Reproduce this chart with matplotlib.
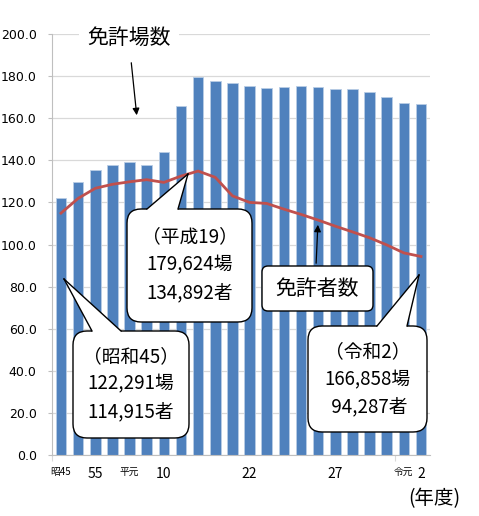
import numpy as np
import matplotlib
matplotlib.use("Agg")
import matplotlib.pyplot as plt
from matplotlib.patches import FancyBboxPatch, Polygon
from matplotlib.lines import Line2D
from matplotlib.transforms import Affine2D

plt.rcParams['font.family'] = ['Noto Sans CJK JP', 'DejaVu Sans']

# 免許場数 (千場) と 免許者数 (千人)
places = [122.3, 129.8, 135.2, 137.8, 139.3, 137.8, 143.8, 165.9, 179.6, 177.9, 176.6,
          175.2, 174.4, 174.8, 175.4, 175.0, 174.1, 173.8, 172.4, 170.1, 167.3, 166.9]
persons = [114.9, 121.9, 126.7, 128.6, 129.8, 130.8, 129.5, 132.5, 134.9, 131.9, 123.1,
           120.0, 119.5, 116.8, 114.3, 111.6, 108.7, 106.0, 103.2, 99.8, 96.0, 94.3]
tick_pos = [0, 2, 4, 6, 11, 16, 20, 21]
tick_labels = ['昭45', '55', '平元', '10', '22', '27', '令元', '2']
small_labels = ['昭45', '平元', '令元']

W, H = 479, 516
fig = plt.figure(figsize=(W / 100, H / 100), dpi=100)
ax = fig.add_axes([52 / W, 1 - 455 / H, 378 / W, 421 / H])

x = np.arange(len(places))
ax.bar(x, places, width=0.62, color='#4F81BD', edgecolor='#B9CDE5', linewidth=0.6, zorder=2)
ax.plot(x, persons, color='#C0504D', lw=2, zorder=3)

ax.set_xlim(-0.525, len(places) - 0.475)
ax.set_ylim(0, 200)
ax.set_yticks(np.arange(0, 201, 20))
ax.set_yticklabels([f'{v:.1f}' for v in np.arange(0, 201, 20)],
                   family=['Liberation Sans Narrow', 'DejaVu Sans'], fontsize=9)
ax.yaxis.grid(True, color='#D9D9D9', lw=0.9, zorder=0)
ax.tick_params(axis='y', length=3, color='#BFBFBF', pad=8)

ax.set_xticks([-0.5, 19.5])
ax.set_xticklabels(['', ''])
ax.tick_params(axis='x', length=4, color='#D9D9D9')
for p, lab in zip(tick_pos, tick_labels):
    fs = 7 if lab in small_labels else 10
    ax.text(p, -9 if lab not in small_labels else -8, lab, ha='center', va='center', fontsize=fs,
            family=['Liberation Sans Narrow', 'Noto Sans CJK JP'])
for s in ['top', 'right']:
    ax.spines[s].set_visible(False)
ax.spines['left'].set_color('#BFBFBF')
ax.spines['bottom'].set_color('#BFBFBF')

# pixel coordinates (origin top-left) for annotations
px = Affine2D().scale(1 / W, -1 / H).translate(0, 1) + fig.transFigure


def callout(x0, y0, x1, y1, tip, base, lines, ys, fs=13.5):
    box = FancyBboxPatch((x0, y0), x1 - x0, y1 - y0, boxstyle='round,pad=0,rounding_size=14',
                         transform=px, fc='white', ec='black', lw=1, zorder=5)
    fig.patches.append(box)
    (bx0, bx1) = base
    fill = Polygon([(bx0, y0 + 3), (bx0, y0), tip, (bx1, y0), (bx1, y0 + 3)], closed=True,
                   transform=px, fc='white', ec='none', zorder=6)
    fig.patches.append(fill)
    for bx in base:
        fig.lines.append(Line2D([bx, tip[0]], [y0, tip[1]], transform=px, color='black', lw=1, zorder=7))
    for t, yy in zip(lines, ys):
        fig.text((x0 + x1) / 2 / W, 1 - yy / H, t, ha='center', va='center', fontsize=fs, zorder=8)


callout(127, 209, 252, 322, (188, 174), (147, 178),
        ['（平成19）', '179,624場', '134,892者'], [237, 265, 293])
callout(73, 331, 189, 438, (64, 279), (92, 121),
        ['（昭和45）', '122,291場', '114,915者'], [357, 384, 412])
callout(308, 326, 427, 432, (419, 275), (377, 407),
        ['（令和2）', '166,858場', ' 94,287者'], [352, 380, 407])

# 免許者数 label box with arrow
box = FancyBboxPatch((262, 266), 111, 45, boxstyle='round,pad=0,rounding_size=6',
                     transform=px, fc='white', ec='black', lw=1, zorder=5)
fig.patches.append(box)
fig.text(317.5 / W, 1 - 289 / H, '免許者数', ha='center', va='center', fontsize=15, zorder=8)
ax.annotate('', xy=(318 / W, 1 - 222 / H), xytext=(316 / W, 1 - 266 / H),
            xycoords='figure fraction', textcoords='figure fraction',
            arrowprops=dict(arrowstyle='-|>', color='black', lw=0.9, mutation_scale=10))

# 免許場数 label with arrow
fig.text(129 / W, 1 - 38 / H, '免許場数', ha='center', va='center', fontsize=15, zorder=8,
         bbox=dict(fc='white', ec='none', pad=6))
ax.annotate('', xy=(137 / W, 1 - 118 / H), xytext=(131 / W, 1 - 60 / H),
            xycoords='figure fraction', textcoords='figure fraction',
            arrowprops=dict(arrowstyle='-|>', color='black', lw=0.9, mutation_scale=10))

fig.text(434 / W, 1 - 499 / H, '(年度)', ha='center', va='center', fontsize=14)

fig.savefig('out.png', dpi=100)
